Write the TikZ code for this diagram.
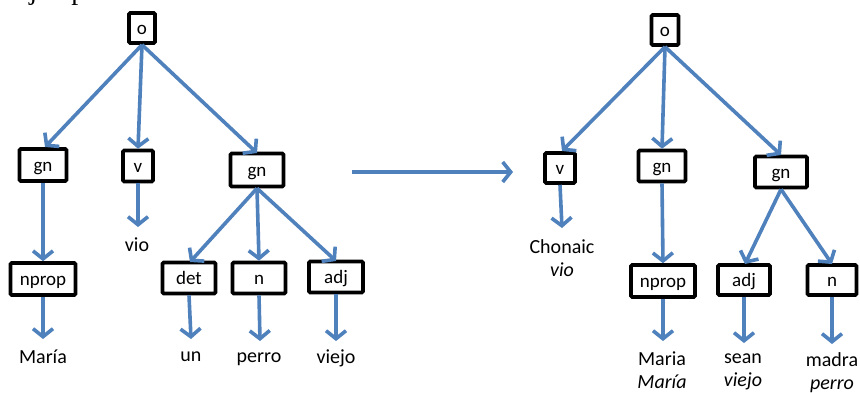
\documentclass[tikz,border=0pt]{standalone}
\usepackage{fontspec}
\setmainfont{Carlito}
\newfontfamily\serifcut{Liberation Serif}
\usetikzlibrary{arrows.meta}
\definecolor{arrblue}{HTML}{4F81BD}
\tikzset{
  cat/.style={draw=black, line width=3.6pt, rounded corners=1.2pt, inner sep=0pt,
    text height=13pt, text depth=1pt,
    font=\fontsize{19}{19}\selectfont, text=black, fill=white},
  word/.style={font=\fontsize{20}{23}\selectfont, align=center, inner sep=0pt},
  arr/.style={draw=arrblue, line width=3.6pt, -{Straight Barb[length=8pt,width=20pt]}, shorten >=0pt},
}
\begin{document}
\begin{tikzpicture}[x=1pt,y=-1pt]
\useasboundingbox (0,0) rectangle (860,392);
\fill[white] (0,0) rectangle (860,392);
% clipped heading
\node[anchor=base west, inner sep=0pt, font=\serifcut\fontsize{28}{28}\selectfont] (head) at (12,-1) {Ejemplo};

% ---------- left tree ----------
\node[cat, minimum width=26pt, minimum height=30pt] (Lo) at (142,28) {o};
\node[cat, minimum width=47pt, minimum height=32pt] (Lgn1) at (43,165) {gn};
\node[cat, minimum width=30pt, minimum height=31pt] (Lv) at (138,166) {v};
\node[cat, minimum width=53pt, minimum height=33pt] (Lgn2) at (257,170) {gn};
\node[cat, minimum width=65pt, minimum height=32pt] (Lnprop) at (43,279) {nprop};
\node[cat, minimum width=53pt, minimum height=31pt] (Ldet) at (189,278) {det};
\node[cat, minimum width=53pt, minimum height=31pt] (Ln) at (259,278) {n};
\node[cat, minimum width=54pt, minimum height=31pt] (Ladj) at (336,277) {adj};

\node[word] (wvio) at (137,245) {vio};
\node[word] (wMaria) at (43,357) {María};
\node[word] (wun) at (191,357) {un};
\node[word] (wperro) at (259,359) {perro};
\node[word] (wviejo) at (336,358) {viejo};

\coordinate (Lvt) at (138,227);
\coordinate (Lnpt) at (43,339);
\coordinate (Ldt) at (191,339);
\coordinate (Lnt) at (260,341);
\coordinate (Lat) at (336,341);

\draw[arr] (Lo.south) -- (45,147);
\draw[arr] (Lo.south) -- (Lv.north);
\draw[arr] (Lo.south) -- (257,153);
\draw[arr] (Lgn1.south) -- (Lnprop.north);
\draw[arr] (Lv.south) -- (Lvt);
\draw[arr] (Lgn2.south) -- (190,262);
\draw[arr] (Lgn2.south) -- (Ln.north);
\draw[arr] (Lgn2.south) -- (336,261);
\draw[arr] (Lnprop.south) -- (Lnpt);
\draw[arr] (Ldet.south) -- (Ldt);
\draw[arr] (Ln.south) -- (Lnt);
\draw[arr] (Ladj.south) -- (Lat);

% ---------- middle arrow ----------
\coordinate (ms) at (352,172);
\coordinate (me) at (513,172);
\draw[arr] (ms) -- (me);

% ---------- right tree ----------
\node[cat, minimum width=27pt, minimum height=30pt] (Ro) at (665,30) {o};
\node[cat, minimum width=30pt, minimum height=30pt] (Rv) at (560,168) {v};
\node[cat, minimum width=47pt, minimum height=31pt] (Rgn1) at (662,166) {gn};
\node[cat, minimum width=52pt, minimum height=31pt] (Rgn2) at (781,172) {gn};
\node[cat, minimum width=64pt, minimum height=32pt] (Rnprop) at (663,281) {nprop};
\node[cat, minimum width=52pt, minimum height=30pt] (Radj) at (744,280) {adj};
\node[cat, minimum width=49pt, minimum height=30pt] (Rn) at (832,280) {n};

\node[word] (wchon) at (562,258) {Chonaic\\\itshape vio};
\node[word] (wmaria2) at (662,370) {Maria\\\itshape María};
\node[word] (wsean) at (743,372) {sean\\\itshape viejo};
\node[word] (wmadra) at (832,373) {madra\\\itshape perro};

\coordinate (Rvt) at (562,228);
\coordinate (Rnpt) at (663,341);
\coordinate (Rat) at (744,343);
\coordinate (Rnt) at (832,344);

\draw[arr] (Ro.south) -- (562,151);
\draw[arr] (Ro.south) -- (Rgn1.north);
\draw[arr] (Ro.south) -- (781,155);
\draw[arr] (Rv.south) -- (Rvt);
\draw[arr] (Rgn1.south) -- (Rnprop.north);
\draw[arr] (Rgn2.south) -- (745,264);
\draw[arr] (Rgn2.south) -- (832,264);
\draw[arr] (Rnprop.south) -- (Rnpt);
\draw[arr] (Radj.south) -- (Rat);
\draw[arr] (Rn.south) -- (Rnt);
\end{tikzpicture}
\end{document}
